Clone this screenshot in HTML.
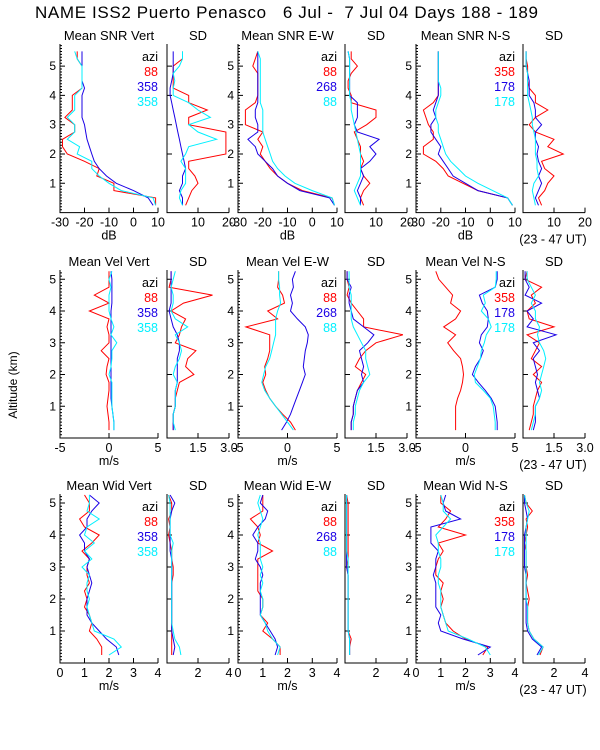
<!DOCTYPE html>
<html><head><meta charset="utf-8"><style>
html,body{margin:0;padding:0;background:#fff;}
svg{display:block;font-family:"Liberation Sans",sans-serif;}
</style></head><body>
<svg id="chart" width="600" height="750" viewBox="0 0 600 750">
<text x="35" y="18" font-size="17" textLength="503" lengthAdjust="spacing" xml:space="preserve">NAME ISS2 Puerto Penasco   6 Jul -  7 Jul 04 Days 188 - 189</text>
<text transform="translate(17,385) rotate(-90)" text-anchor="middle" font-size="12">Altitude (km)</text>
</svg>
<script>
// altitude grids (km)
const alt1 = [0.25,0.5,0.75,1.0,1.25,1.5,1.75,2.0,2.25,2.5,2.75,3.0,3.25,3.5,3.75,4.0,4.25,4.5,4.75,5.0,5.25,5.5];
const alt2 = [0.25,0.5,0.75,1.0,1.25,1.5,1.75,2.0,2.25,2.5,2.75,3.0,3.25,3.5,3.75,4.0,4.25,4.5,4.75,5.0,5.25];
const seriesNames = ["red","blue","cyan"];
const azi = [["88","358","358"],["88","268","88"],["358","178","178"]];
const rowTitles = [["Mean SNR Vert","Mean SNR E-W","Mean SNR N-S"],["Mean Vel Vert","Mean Vel E-W","Mean Vel N-S"],["Mean Wid Vert","Mean Wid E-W","Mean Wid N-S"]];
const units = ["dB","m/s","m/s"];
const meanTicks = [[-30,-20,-10,0,10],[-5,0,5],[0,1,2,3,4]];
const meanTickLabels = [["-30","-20","-10","0","10"],["-5","0","5"],["0","1","2","3","4"]];
const sdTicks = [[10,20],[1.5,3.0],[2,4]];
const sdTickLabels = [["10","20"],["1.5","3.0"],["2","4"]];
const meanRange = [[-30,10],[-5,5],[0,4]];
const sdRange = [[0,20],[0,3],[0,4]];
const altTicks = [1,2,3,4,5];

// Row 1: SNR
const snrVertRed  = [9,9,-8,-8,-15,-14,-20,-27,-29,-29,-24,-24,-28,-25,-25,-25,-21,-21,-21,-21,-23,-23];
const snrVertBlue = [8,6,0,-7,-11,-14,-16,-17,-18,-19,-19.5,-20,-21,-21,-21,-21,-20,-21,-21,-21,-21,-21];
const snrVertCyan = [9,8,-5,-10,-14,-17,-17,-23,-22,-27,-24,-24,-27,-24,-24,-24,-21,-21,-21,-21,-23,-24];
const snrVertSdRed  = [6,7,8,10,9,7,7,19,19,19,19,7,7,13,7,7,2,2,2,2,5,5];
const snrVertSdBlue = [5,5,4,5,5,6,5.5,5,4.5,4,3.5,3,2.5,2,1.5,1,1,1.5,2,2,2,2];
const snrVertSdCyan = [5,4,4.5,6,6,6,4.5,6,7,16,10,7,14,10,7,2,2,2.5,2,4,5,5];
const snrEwRed  = [9,8,-4,-10,-14,-17,-19,-21,-20,-22,-20,-27,-27,-27,-23,-22,-22,-22,-22,-24,-23,-22];
const snrEwBlue = [9,7,-5,-10,-14,-16,-19,-22,-23,-26,-22,-22,-23,-23,-22,-22,-22,-22,-22,-22,-22,-22];
const snrEwCyan = [9,8,0,-7,-11,-14,-16,-17,-18,-19,-20,-20,-20,-20,-21,-21,-21,-21,-21,-21,-21,-22];
const snrEwSdRed  = [6,5,6,8,6,5,6,5,5,4,3,7,10,10,2,2,1,1,2,4,2,2];
const snrEwSdBlue = [5,5,4,5,6,5,8,10,8,11,4,3,4,4,4,1.5,1.5,1.5,1.5,1.5,1.5,1];
const snrEwSdCyan = [5,4,3,4,5,5,5,5,4.5,4,3.5,3,2.5,2,2,1.5,1.5,1.5,1.5,1.5,1.5,1];
const snrNsRed  = [9,7,-5,-11,-17,-19,-22,-27,-27,-23,-23,-25,-26,-27,-23,-21,-21,-21,-21,-21,-21,-21];
const snrNsBlue = [9,7,-5,-10,-15,-17,-19,-21,-20,-22,-24,-24,-22,-23,-22,-21,-21,-21,-21,-21,-21,-21];
const snrNsCyan = [9,7,1,-5,-10,-13,-16,-18,-19,-20,-21,-21,-22,-22,-21,-20,-20,-21,-21,-21,-21,-21];
const snrNsSdRed  = [6,5,7,8,10,7,6,13,8,10,4,2,4,8,4,4,2,1.5,1.5,1.5,1,1];
const snrNsSdBlue = [5,4,5,6,5,6,5,4.5,5,4,4,6,4,4,3.5,2,2,2,1.5,1,1,1];
const snrNsSdCyan = [4,3.5,3,3.5,5,4.5,4.5,4,4,4,3.5,3,3,2.5,2,1.5,1.5,1.5,1.5,1,1,1];

// Row 2: Velocity
const velVertRed  = [0,0,-0.1,-0.2,-0.1,0,0,-0.3,-0.2,0,-0.8,0,0,-0.2,0,-2,0,-1.5,0,0,0];
const velVertBlue = [0.5,0.5,0.4,0.3,0.2,0.2,0.2,0.2,0.2,0.2,0.2,0.2,0.2,0.2,0.2,0.2,0.3,0.3,0.3,0.3,0.2];
const velVertCyan = [0.5,0.5,0.4,0.3,0.3,0.3,0.3,0,0.2,0.3,0.3,0.8,0.2,0.5,0.2,0,0,0,0.2,0,0.3];
const velVertSdRed  = [0.3,0.3,0.3,0.4,0.4,0.5,0.6,1.3,0.9,1.0,1.4,0.4,0.6,0.7,0.9,0.2,0.8,2.2,0.1,0.2,0.2];
const velVertSdBlue = [0.3,0.3,0.3,0.4,0.4,0.4,0.5,0.5,0.5,0.5,0.6,0.6,0.5,0.3,0.2,0.1,0.2,0.2,0.2,0.2,0.2];
const velVertSdCyan = [0.4,0.3,0.3,0.4,0.4,0.4,0.5,0.3,0.4,0.6,0.7,0.6,0.4,1.0,0.4,0.2,0.3,0.3,0.2,0.3,0.4];
const velEwRed  = [0.8,0.3,-0.5,-1.2,-1.8,-2.2,-2.5,-2.2,-2.3,-2,-1.8,-1.8,-1.8,-4.2,-1,-2,-0.3,-0.5,-1,-0.9,-0.9];
const velEwBlue = [-0.6,-0.1,0.3,0.6,0.9,1.2,1.5,1.8,1.6,1.7,1.8,2.0,2.1,1.8,1.0,0.3,0.5,0.3,0.6,0.5,0.8];
const velEwCyan = [0.6,0,-0.6,-1.2,-1.8,-2.3,-2.6,-2.4,-2.2,-1.8,-1.6,-1.4,-1.2,-1.2,-1.2,-1.0,-0.7,-0.8,-0.8,-0.9,-0.9];
const velEwSdRed  = [0.3,0.3,0.4,0.4,0.5,0.6,0.8,1.0,0.5,0.7,1.0,1.5,2.8,0.9,0.9,0.6,0.3,0.1,0.2,0.1,0.1];
const velEwSdBlue = [0.3,0.3,0.4,0.4,0.5,0.6,0.9,0.8,0.9,0.8,0.7,1.1,1.4,0.9,0.4,0.3,0.2,0.2,0.3,0.1,0.1];
const velEwSdCyan = [0.4,0.4,0.5,0.5,0.6,0.7,0.9,1.2,1.1,1.0,1.0,0.8,0.6,0.4,0.3,0.3,0.3,0.3,0.2,0.2,0.2];
const velNsRed  = [-1.0,-1.0,-1.0,-1.0,-0.8,-0.5,-0.3,-0.2,-0.3,-0.5,-1.2,-1.8,-1.0,-2.2,-1.0,-0.5,-1.5,-1.3,-2.0,-2.7,-3.0];
const velNsBlue = [3.2,3.2,3.1,3.0,2.6,2.0,1.3,0.7,1.0,1.5,1.8,1.4,1.6,2.2,2.3,2.2,1.7,1.4,3.0,3.2,3.2];
const velNsCyan = [3.0,3.0,2.9,2.8,2.5,1.8,1.0,0.9,1.2,1.5,1.6,1.9,2.1,2.6,2.3,1.6,2.0,1.8,3.0,3.1,3.1];
const velNsSdRed  = [0.3,0.4,0.5,0.5,0.6,0.7,0.9,0.5,0.9,0.4,0.6,0.8,0.2,1.5,0.3,0.2,0.6,0.4,0.9,0.1,0.2];
const velNsSdBlue = [0.5,0.6,0.6,0.6,0.8,0.7,0.6,0.7,0.6,0.5,0.8,0.5,1.6,0.2,0.5,0.2,0.9,0.1,0.3,0.1,0.1];
const velNsSdCyan = [0.4,0.5,0.6,0.6,0.8,0.9,0.8,0.9,1.0,1.1,1.0,0.8,0.7,0.8,0.6,0.6,0.4,0.6,0.4,0.2,0.2];

// Row 3: Width
const widVertRed  = [1.7,1.7,1.5,1.2,1.3,1.2,1.0,1.1,1.0,1.2,1.1,1.1,1.2,0.9,1.3,1.6,1.0,0.8,1.2,1.2,1.0];
const widVertBlue = [2.4,2.3,1.9,1.6,1.3,1.1,1.1,1.1,1.2,1.3,1.2,1.1,1.2,1.0,1.0,0.8,1.1,1.1,1.3,1.6,1.2];
const widVertCyan = [2.0,2.5,2.2,1.4,1.3,1.2,1.1,1.2,1.1,1.1,1.2,0.9,1.3,1.0,1.4,1.0,1.1,1.6,1.1,1.2,1.2];
const widVertSdRed  = [0.3,0.3,0.3,0.3,0.3,0.3,0.3,0.3,0.3,0.3,0.4,0.4,0.3,0.3,0.2,0.1,0.2,0.1,0.3,0.3,0.1];
const widVertSdBlue = [0.4,0.5,0.4,0.3,0.3,0.3,0.3,0.3,0.3,0.3,0.3,0.3,0.3,0.2,0.2,0.2,0.2,0.2,0.3,0.5,0.2];
const widVertSdCyan = [0.9,0.8,0.5,0.4,0.3,0.3,0.3,0.3,0.3,0.3,0.3,0.3,0.3,0.3,0.4,0.2,0.2,0.2,0.2,0.2,0.1];
const widEwRed  = [1.7,1.7,1.4,1.0,1.2,0.9,1.0,1.0,0.8,0.8,0.8,0.8,0.8,1.4,0.8,0.9,0.8,0.5,1.0,1.0,1.0];
const widEwBlue = [1.5,1.6,1.5,1.3,1.1,0.9,0.9,0.9,0.9,0.9,1.0,0.9,0.7,0.8,0.8,0.6,0.8,1.1,1.2,0.9,1.0];
const widEwCyan = [1.6,1.7,1.4,1.2,1.1,0.9,1.0,1.0,0.9,1.0,0.9,1.0,0.9,0.9,0.9,0.8,0.9,1.0,0.9,0.8,0.9];
const widEwSdRed  = [0.3,0.3,0.4,0.2,0.2,0.2,0.2,0.2,0.2,0.2,0.2,0.1,0.2,0.2,0.2,0.2,0.2,0.2,0.2,0.2,0.1];
const widEwSdBlue = [0.3,0.3,0.3,0.2,0.2,0.2,0.2,0.2,0.2,0.2,0.2,0.1,0.1,0.1,0.1,0.1,0.1,0.1,0.1,0.1,0.1];
const widEwSdCyan = [0.3,0.3,0.3,0.2,0.2,0.2,0.2,0.2,0.2,0.2,0.2,0.2,0.2,0.1,0.1,0.1,0.1,0.1,0.1,0.1,0.1];
const widNsRed  = [2.7,2.9,2.0,1.5,1.2,1.1,1.0,1.1,1.0,1.1,0.8,0.8,0.9,1.1,0.9,2.0,0.9,1.2,1.4,1.0,1.0];
const widNsBlue = [2.5,3.0,1.9,1.0,0.9,1.0,0.8,0.8,0.8,0.8,0.7,0.8,0.8,0.9,0.6,0.6,0.6,1.8,1.2,1.1,1.2];
const widNsCyan = [3.0,2.8,2.1,1.3,1.2,1.1,1.0,1.0,1.0,0.9,0.9,1.0,1.0,0.9,0.9,0.8,1.1,1.4,1.1,1.1,1.0];
const widNsSdRed  = [1.1,1.3,0.7,0.4,0.3,0.3,0.3,0.4,0.3,0.2,0.3,0.2,0.2,0.2,0.1,0.2,0.3,0.2,0.6,0.2,0.1];
const widNsSdBlue = [0.9,1.2,0.6,0.3,0.2,0.2,0.2,0.2,0.2,0.2,0.2,0.1,0.1,0.1,0.1,0.1,0.2,0.3,0.2,0.1,0.1];
const widNsSdCyan = [1.0,1.3,0.7,0.4,0.3,0.3,0.3,0.2,0.2,0.2,0.2,0.2,0.2,0.2,0.2,0.2,0.2,0.3,0.4,0.2,0.1];

const panelData = [
  [[snrVertRed,snrVertBlue,snrVertCyan],[snrVertSdRed,snrVertSdBlue,snrVertSdCyan],
   [snrEwRed,snrEwBlue,snrEwCyan],[snrEwSdRed,snrEwSdBlue,snrEwSdCyan],
   [snrNsRed,snrNsBlue,snrNsCyan],[snrNsSdRed,snrNsSdBlue,snrNsSdCyan]],
  [[velVertRed,velVertBlue,velVertCyan],[velVertSdRed,velVertSdBlue,velVertSdCyan],
   [velEwRed,velEwBlue,velEwCyan],[velEwSdRed,velEwSdBlue,velEwSdCyan],
   [velNsRed,velNsBlue,velNsCyan],[velNsSdRed,velNsSdBlue,velNsSdCyan]],
  [[widVertRed,widVertBlue,widVertCyan],[widVertSdRed,widVertSdBlue,widVertSdCyan],
   [widEwRed,widEwBlue,widEwCyan],[widEwSdRed,widEwSdBlue,widEwSdCyan],
   [widNsRed,widNsBlue,widNsCyan],[widNsSdRed,widNsSdBlue,widNsSdCyan]]
];
const rowAlts = [alt1,alt2,alt2];

// layout (not data)
const colors = ["#ff0000","#1a00e6","#00f0ff"];
const panelX = [[60,158],[167,229],[238,337],[345,407],[416,515],[523,585]];
const rows = [{y0:212.6,ppk:29.3,top:44},{y0:438,ppk:31.75,top:270},{y0:663,ppk:32,top:494}];

const svg = document.getElementById('chart');
const NS = 'http://www.w3.org/2000/svg';
function mk(tag, attrs, parent){
  const e = document.createElementNS(NS, tag);
  for (const k in attrs) e.setAttribute(k, attrs[k]);
  (parent||svg).appendChild(e);
  return e;
}
function txt(x,y,s,size,anchor,fill,parent){
  const t = mk('text',{x:x,y:y,'font-size':size,'text-anchor':anchor,fill:fill},parent);
  t.textContent = s;
  return t;
}

for (let r=0;r<3;r++){
  const R = rows[r];
  const yS = a => R.y0 - a*R.ppk;
  for (let p=0;p<6;p++){
    const isMean = p%2===0;
    const g = mk('g',{});
    
    
    const [xl,xr] = panelX[p];
    const rng = isMean ? meanRange[r] : sdRange[r];
    const xS = v => xl + (v-rng[0])/(rng[1]-rng[0])*(xr-xl);
    const ax = mk('path',{d:'M'+xl+','+R.top+' V'+R.y0+' H'+xr,stroke:'#000','stroke-width':1,fill:'none'},g);
    
    
    let d='';
    for (let a=0.1;yS(a)>=R.top;a+=0.1){
      const major = Math.abs(a-Math.round(a))<0.01;
      if (!isMean && !major) continue;
      d += 'M'+xl+','+yS(a).toFixed(1)+' h'+(major?5:2)+' ';
    }
    const xt = isMean ? meanTicks[r] : sdTicks[r];
    xt.forEach(v=>{ d += 'M'+xS(v).toFixed(1)+','+R.y0+' v-5 '; });
    mk('path',{d:d,stroke:'#000','stroke-width':1,fill:'none'},g);
    const xl2 = isMean ? meanTickLabels[r] : sdTickLabels[r];
    xt.forEach((v,i)=>{
      const t = txt(xS(v), R.y0+14, xl2[i], 12.5, 'middle', '#000', g);
      
      
    });
    if (isMean){
      altTicks.forEach(a=>{
        const t = txt(xl-4, yS(a)+4, String(a), 12, 'end', '#000', g);
        
        
      });
      const u = txt((xl+xr)/2, R.y0+27, units[r], 12.5, 'middle', '#000', g);
      
      
      const ti = txt((xl+xr)/2, R.top-4, rowTitles[r][p/2], 13, 'middle', '#000', g);
      
      
      const lg = txt(xr, R.top+17, 'azi', 12.5, 'end', '#000', g);
      
      
      azi[p/2].forEach((s,i)=>{
        const le = txt(xr, R.top+32+i*15, s, 12.5, 'end', colors[i], g);
        
        
      });
    } else {
      const ti = txt((xl+xr)/2, R.top-4, 'SD', 13, 'middle', '#000', g);
      
      
    }
    const alts = rowAlts[r];
    panelData[r][p].forEach((vals,si)=>{
      const pts = vals.map((v,i)=>xS(v).toFixed(1)+','+yS(alts[i]).toFixed(1)).join(' ');
      const pl = mk('polyline',{points:pts,fill:'none',stroke:colors[si],'stroke-width':1},g);
      
      
    });
  }
  const ut = txt(553, R.y0+31, '(23 - 47 UT)', 12.5, 'middle', '#000');
  
  
}
</script>
</body></html>
